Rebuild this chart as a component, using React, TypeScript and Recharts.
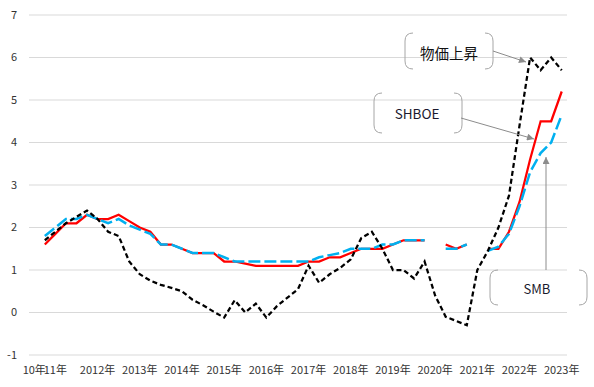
import React from "react";
import { LineChart, Line, XAxis, YAxis, CartesianGrid } from "recharts";

const quarters = [
  "2010Q3", "2010Q4",
  "2011Q1", "2011Q2", "2011Q3", "2011Q4",
  "2012Q1", "2012Q2", "2012Q3", "2012Q4",
  "2013Q1", "2013Q2", "2013Q3", "2013Q4",
  "2014Q1", "2014Q2", "2014Q3", "2014Q4",
  "2015Q1", "2015Q2", "2015Q3", "2015Q4",
  "2016Q1", "2016Q2", "2016Q3", "2016Q4",
  "2017Q1", "2017Q2", "2017Q3", "2017Q4",
  "2018Q1", "2018Q2", "2018Q3", "2018Q4",
  "2019Q1", "2019Q2", "2019Q3", "2019Q4",
  "2020Q1", "2020Q2", "2020Q3", "2020Q4",
  "2021Q1", "2021Q2", "2021Q3", "2021Q4",
  "2022Q1", "2022Q2", "2022Q3", "2022Q4",
  "2023Q1",
];

const tickLabels: Record<string, string> = {
  "2010Q3": "10年",
  "2011Q1": "11年",
  "2012Q1": "2012年",
  "2013Q1": "2013年",
  "2014Q1": "2014年",
  "2015Q1": "2015年",
  "2016Q1": "2016年",
  "2017Q1": "2017年",
  "2018Q1": "2018年",
  "2019Q1": "2019年",
  "2020Q1": "2020年",
  "2021Q1": "2021年",
  "2022Q1": "2022年",
  "2023Q1": "2023年",
};

const yTicks = [-1, 0, 1, 2, 3, 4, 5, 6, 7];

// 物価上昇 (black dashed)
const cpi = [
  null, 1.7, 1.9, 2.1, 2.25, 2.4, 2.2, 1.9, 1.8, 1.2, 0.9,
  0.75, 0.65, 0.58, 0.5, 0.3, 0.17, 0.02, -0.12, 0.29, 0.0,
  0.21, -0.12, 0.15, 0.35, 0.55, 1.1, 0.7, 0.9, 1.05, 1.25,
  1.75, 1.9, 1.5, 1.0, 1.0, 0.8, 1.2, 0.4, -0.1, -0.2,
  -0.3, 1.0, 1.45, 2.0, 2.75, 4.4, 6.0, 5.7, 6.0, 5.7,
];

// SHBOE (red solid)
const shboe = [
  null, 1.6, 1.85, 2.1, 2.1, 2.3, 2.2, 2.2, 2.3, 2.15, 2.0,
  1.9, 1.6, 1.6, 1.5, 1.4, 1.4, 1.4, 1.2, 1.2, 1.15,
  1.1, 1.1, 1.1, 1.1, 1.1, 1.2, 1.2, 1.3, 1.3, 1.4,
  1.5, 1.5, 1.5, 1.6, 1.7, 1.7, 1.7, null, 1.6, 1.5,
  1.6, null, 1.5, 1.5, 1.9, 2.6, 3.6, 4.5, 4.5, 5.2,
];

// SMB (blue dashed)
const smb = [
  null, 1.8, 2.0, 2.2, 2.2, 2.3, 2.2, 2.1, 2.2, 2.05, 1.95,
  1.85, 1.6, 1.6, 1.5, 1.4, 1.4, 1.4, 1.3, 1.2, 1.2,
  1.2, 1.2, 1.2, 1.2, 1.2, 1.2, 1.3, 1.35, 1.4, 1.5,
  1.5, 1.5, 1.6, 1.6, 1.7, 1.7, 1.7, null, 1.5, 1.5,
  1.6, null, 1.45, 1.55, 1.85, 2.5, 3.3, 3.75, 4.0, 4.65,
];

const data = quarters.map((q, i) => ({
  q,
  cpi: cpi[i],
  shboe: shboe[i],
  smb: smb[i],
}));

const W = 594;
const H = 387;
const PLOT_W = 538;
const PAD = PLOT_W / quarters.length / 2;

const tickFont = {
  fontFamily: "'Noto Sans CJK JP', 'Noto Sans', sans-serif",
  fontSize: 11,
  fill: "#333",
};

function Bracket({ x0, y0, x1, y1 }: { x0: number; y0: number; x1: number; y1: number }) {
  const r = 8;
  const left = `M ${x0 + r} ${y0} Q ${x0} ${y0} ${x0} ${y0 + r} L ${x0} ${y1 - r} Q ${x0} ${y1} ${x0 + r} ${y1}`;
  const right = `M ${x1 - r} ${y0} Q ${x1} ${y0} ${x1} ${y0 + r} L ${x1} ${y1 - r} Q ${x1} ${y1} ${x1 - r} ${y1}`;
  return (
    <g fill="none" stroke="#a6a6a6" strokeWidth={1}>
      <path d={left} />
      <path d={right} />
    </g>
  );
}

const calloutFont = "'Noto Sans CJK JP', 'Noto Sans', sans-serif";

export default function App() {
  return (
    <div style={{ position: "absolute", left: 0, top: 0, width: W, height: H, background: "#fff" }}>
      <LineChart
        width={W}
        height={H}
        data={data}
        margin={{ top: 15, right: 27, bottom: 0, left: 0 }}
      >
        <CartesianGrid horizontal={true} vertical={false} stroke="#d9d9d9" strokeWidth={1} />
        <XAxis
          dataKey="q"
          ticks={Object.keys(tickLabels)}
          interval={0}
          tickFormatter={(v: string) => tickLabels[v] ?? ""}
          axisLine={false}
          tickLine={false}
          tickSize={0}
          tickMargin={11}
          height={32}
          padding={{ left: PAD, right: PAD }}
          tick={tickFont}
        />
        <YAxis
          type="number"
          domain={[-1, 7]}
          ticks={yTicks}
          interval={0}
          axisLine={false}
          tickLine={false}
          tickSize={0}
          tickMargin={12}
          width={29}
          tick={tickFont}
        />
        <Line
          dataKey="shboe"
          stroke="#FF0000"
          strokeWidth={2.25}
          dot={false}
          isAnimationActive={false}
          connectNulls={false}
        />
        <Line
          dataKey="smb"
          stroke="#00B0F0"
          strokeWidth={2.5}
          strokeDasharray="12 4"
          dot={false}
          isAnimationActive={false}
          connectNulls={false}
        />
        <Line
          dataKey="cpi"
          stroke="#000000"
          strokeWidth={2.25}
          strokeDasharray="5 3"
          dot={false}
          isAnimationActive={false}
          connectNulls={false}
        />
      </LineChart>
      <svg
        width={W}
        height={H}
        style={{ position: "absolute", left: 0, top: 0, pointerEvents: "none" }}
      >
        <defs>
          <marker id="arr" viewBox="0 0 10 10" refX="10" refY="5" markerWidth="9" markerHeight="7" markerUnits="userSpaceOnUse" orient="auto">
            <path d="M 0 0 L 10 5 L 0 10 z" fill="#8c8c8c" />
          </marker>
        </defs>
        <Bracket x0={405} y0={33} x1={493} y1={69} />
        <text x={449} y={52} textAnchor="middle" dominantBaseline="central" fontFamily={calloutFont} fontSize={14.5} fill="#111">
          物価上昇
        </text>
        <line x1={493} y1={51} x2={526} y2={62} stroke="#8c8c8c" strokeWidth={1} markerEnd="url(#arr)" />

        <Bracket x0={374} y0={93} x1={462} y1={133} />
        <text x={417} y={113} textAnchor="middle" dominantBaseline="central" fontFamily={calloutFont} fontSize={13.5} fill="#1a1a2e">
          SHBOE
        </text>
        <line x1={461} y1={118} x2={534} y2={139} stroke="#8c8c8c" strokeWidth={1} markerEnd="url(#arr)" />

        <Bracket x0={490} y0={270} x1={587} y1={305} />
        <text x={537} y={288} textAnchor="middle" dominantBaseline="central" fontFamily={calloutFont} fontSize={13} fill="#1a1a2e">
          SMB
        </text>
        <line x1={546} y1={270} x2={546} y2={157} stroke="#8c8c8c" strokeWidth={1} markerEnd="url(#arr)" />
      </svg>
    </div>
  );
}
